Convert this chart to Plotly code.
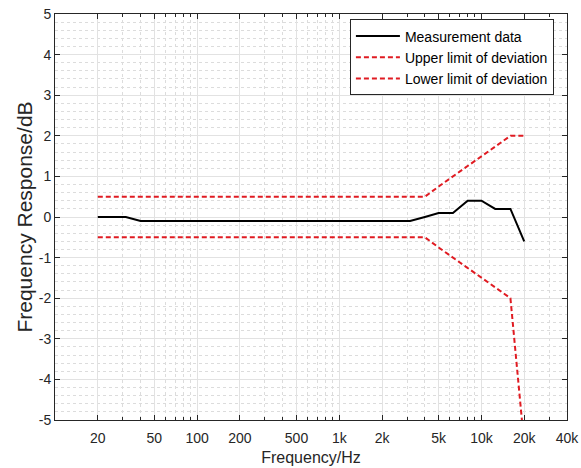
import plotly.graph_objects as go

# ---- data ----
freqs = [20, 25, 31.5, 40, 50, 63, 80, 100, 125, 160, 200, 250, 315, 400, 500, 630, 800,
         1000, 1250, 1600, 2000, 2500, 3150, 4000, 5000, 6300, 8000, 10000, 12500, 16000, 20000]
measurement = [0, 0, 0, -0.1, -0.1, -0.1, -0.1, -0.1, -0.1, -0.1, -0.1, -0.1, -0.1, -0.1, -0.1, -0.1, -0.1,
               -0.1, -0.1, -0.1, -0.1, -0.1, -0.1, 0.0, 0.1, 0.1, 0.4, 0.4, 0.2, 0.2, -0.6]
upper_limit = [0.5] * 23 + [0.5, 0.75, 1.0, 1.25, 1.5, 1.75, 2.0, 2.0]
lower_limit = [-0.5] * 23 + [-0.5, -0.75, -1.0, -1.25, -1.5, -1.75, -2.0, -5.6]

x_tickvals = [20, 50, 100, 200, 500, 1000, 2000, 5000, 10000, 20000, 40000]
x_ticktext = ["20", "50", "100", "200", "500", "1k", "2k", "5k", "10k", "20k", "40k"]
x_minor = [m * d for d in (10, 100, 1000, 10000) for m in range(1, 10) if m * d <= 40000]
y_tickvals = [-5, -4, -3, -2, -1, 0, 1, 2, 3, 4, 5]
y_ticktext = ["-5", "-4", "-3", "-2", "-1", "0", "1", "2", "3", "4", "5"]

series_names = ["Measurement data", "Upper limit of deviation", "Lower limit of deviation"]

TXT = "#262626"
FONT = "Liberation Sans, Arial, sans-serif"
RED = "#e01b22"

fig = go.Figure()
fig.add_trace(go.Scatter(x=freqs, y=measurement, mode="lines", name=series_names[0],
                         line=dict(color="black", width=2)))
fig.add_trace(go.Scatter(x=freqs, y=upper_limit, mode="lines", name=series_names[1],
                         line=dict(color=RED, width=2, dash="5px,3px")))
fig.add_trace(go.Scatter(x=freqs, y=lower_limit, mode="lines", name=series_names[2],
                         line=dict(color=RED, width=2, dash="5px,3px")))

fig.update_layout(
    width=581, height=468,
    margin=dict(l=55, r=14, t=14, b=48),
    paper_bgcolor="white", plot_bgcolor="white",
    font=dict(family=FONT, size=14, color=TXT),
    showlegend=True,
    legend=dict(x=0.576, y=0.9865, xanchor="left", yanchor="top",
                bgcolor="white", bordercolor=TXT, borderwidth=1,
                font=dict(size=14, color="black"), itemwidth=44,
                tracegroupgap=0),
)

fig.update_xaxes(
    type="log", range=[1, 4.60206], automargin=False,
    tickmode="array", tickvals=x_tickvals, ticktext=x_ticktext,
    ticks="inside", ticklen=5, tickcolor=TXT, ticklabelstandoff=5,
    showline=True, linecolor=TXT, linewidth=1, mirror="allticks",
    showgrid=True, gridcolor="#e2e2e2", gridwidth=1,
    zeroline=False,
    tickfont=dict(size=14, color=TXT),
    title=dict(text="Frequency/Hz", font=dict(size=16, color=TXT), standoff=7),
    minor=dict(tickmode="array", tickvals=x_minor, ticks="inside", ticklen=3, tickcolor=TXT,
               showgrid=True, gridcolor="#dcdcdc", griddash="dot", gridwidth=1),
)

fig.update_yaxes(
    range=[-5, 5], automargin=False,
    tickmode="array", tickvals=y_tickvals, ticktext=y_ticktext,
    ticks="inside", ticklen=5, tickcolor=TXT,
    showline=True, linecolor=TXT, linewidth=1, mirror="allticks",
    showgrid=True, gridcolor="#e2e2e2", gridwidth=1,
    zeroline=False,
    tickfont=dict(size=14, color=TXT),
    title=dict(text="Frequency Response/dB", font=dict(size=21, color=TXT), standoff=0),
    minor=dict(dtick=0.2, ticks="", showgrid=True, gridcolor="#dcdcdc", griddash="dot", gridwidth=1),
)

fig.write_html(
    "out.html",
    config={"displayModeBar": False},
    post_script="document.body.style.margin='0';document.body.style.overflow='hidden';",
)
